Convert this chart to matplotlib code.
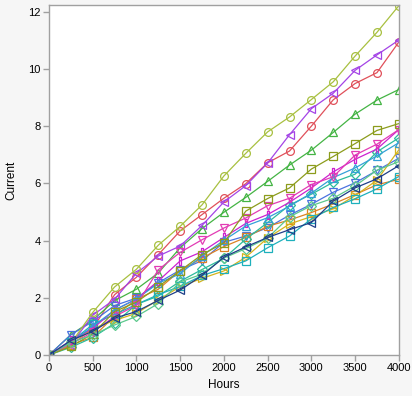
import matplotlib
matplotlib.use("Agg")
import matplotlib.pyplot as plt
import numpy as np

plt.rcParams['font.family'] = ['Liberation Sans', 'DejaVu Sans']

hours = [0, 250, 500, 750, 1000, 1250, 1500, 1750, 2000, 2250, 2500, 2750, 3000, 3250, 3500, 3750, 4000]

unit1 = [0.00, 0.47, 0.93, 2.11, 2.72, 3.51, 4.34, 4.91, 5.48, 5.99, 6.72, 7.13, 8.00, 8.92, 9.49, 9.87, 10.94]
unit2 = [0.00, 0.71, 1.22, 1.90, 2.30, 2.87, 3.75, 4.42, 4.99, 5.51, 6.07, 6.64, 7.16, 7.78, 8.42, 8.91, 9.28]
unit3 = [0.00, 0.71, 1.17, 1.73, 1.99, 2.53, 2.97, 3.30, 3.94, 4.16, 4.45, 4.89, 5.27, 5.69, 6.02, 6.45, 6.88]
unit4 = [0.00, 0.36, 0.62, 1.36, 1.95, 2.30, 2.95, 3.39, 3.79, 4.11, 4.50, 4.72, 4.98, 5.28, 5.61, 5.95, 6.14]
unit5 = [0.00, 0.27, 0.61, 1.11, 1.77, 2.06, 2.58, 2.99, 3.38, 4.05, 4.63, 5.24, 5.62, 6.04, 6.32, 7.10, 7.59]
unit6 = [0.00, 0.36, 1.39, 1.95, 2.86, 3.46, 3.81, 4.53, 5.35, 5.92, 6.71, 7.70, 8.61, 9.15, 9.95, 10.49, 11.01]
unit7 = [0.00, 0.36, 0.92, 1.21, 1.46, 1.93, 2.39, 2.68, 2.94, 3.42, 4.09, 4.58, 4.84, 5.11, 5.57, 6.11, 7.17]
unit8 = [0.00, 0.46, 1.07, 1.42, 1.77, 2.11, 2.40, 2.78, 3.02, 3.29, 3.75, 4.16, 4.76, 5.16, 5.46, 5.81, 6.24]
unit9 = [0.00, 0.51, 0.93, 1.57, 1.96, 2.59, 3.29, 3.61, 4.11, 4.60, 4.91, 5.34, 5.84, 6.40, 6.84, 7.20, 7.88]
unit10 = [0.00, 0.41, 1.49, 2.38, 3.00, 3.84, 4.50, 5.25, 6.26, 7.05, 7.80, 8.32, 8.93, 9.55, 10.45, 11.28, 12.21]
unit11 = [0.00, 0.44, 1.00, 1.57, 1.96, 2.51, 2.84, 3.47, 4.01, 4.51, 4.80, 5.20, 5.66, 6.20, 6.54, 6.96, 7.42]
unit12 = [0.00, 0.39, 0.80, 1.35, 1.74, 2.98, 3.59, 4.03, 4.44, 4.79, 5.22, 5.48, 5.96, 6.23, 6.99, 7.37, 7.88]
unit13 = [0.00, 0.30, 0.74, 1.52, 1.85, 2.39, 2.95, 3.51, 3.92, 5.03, 5.47, 5.84, 6.50, 6.94, 7.39, 7.85, 8.09]
unit14 = [0.00, 0.44, 0.70, 1.05, 1.35, 1.80, 2.55, 2.83, 3.39, 3.72, 4.09, 4.83, 5.22, 5.48, 5.91, 6.46, 6.76]
unit15 = [0.00, 0.51, 0.83, 1.29, 1.52, 1.91, 2.27, 2.78, 3.42, 3.78, 4.11, 4.38, 4.63, 5.38, 5.84, 6.16, 6.62]

units = [unit1, unit2, unit3, unit4, unit5, unit6, unit7, unit8, unit9, unit10,
         unit11, unit12, unit13, unit14, unit15]

colors = ['#e0505a', '#44b444', '#4a72e0', '#dc8224', '#2cbc9c', '#a444e6', '#d4b41c',
          '#1eb0bc', '#cc22d0', '#a8c040', '#34a0d8', '#e23cb4', '#8c9c1c', '#5cc88c', '#1f3f88']
# thin upright rectangle marker
bar_marker = [(-0.35, -1), (0.35, -1), (0.35, 1), (-0.35, 1), (-0.35, -1)]
markers = ['o', '^', 'v', 's', 'D', '<', '>', 's', bar_marker, 'o', '^', 'v', 's', 'D', '<']

fig = plt.figure(figsize=(4.12, 3.96), dpi=100, facecolor='#f6f6f6')
ax = fig.add_axes([0.119, 0.1035, 0.849, 0.8835])
ax.set_facecolor('white')

for y, c, m in zip(units, colors, markers):
    ax.plot(hours, y, color=c, linewidth=0.9, marker=m, markersize=5.6,
            markerfacecolor='none', markeredgecolor=c, markeredgewidth=0.9)

ax.set_xlim(0, 4000)
ax.set_ylim(0, 12.23)
ax.set_xticks(np.arange(0, 4001, 500))
ax.set_yticks(np.arange(0, 13, 2))

for s in ax.spines.values():
    s.set_color('#a0a0a0')
    s.set_linewidth(1)
ax.tick_params(direction='out', length=4, width=1, color='#a0a0a0', labelsize=8, pad=2)
ax.set_xlabel('Hours', fontsize=8.5, labelpad=4)
ax.set_ylabel('Current', fontsize=8.5, labelpad=8)

fig.savefig('out.png', dpi=100, facecolor=fig.get_facecolor())
